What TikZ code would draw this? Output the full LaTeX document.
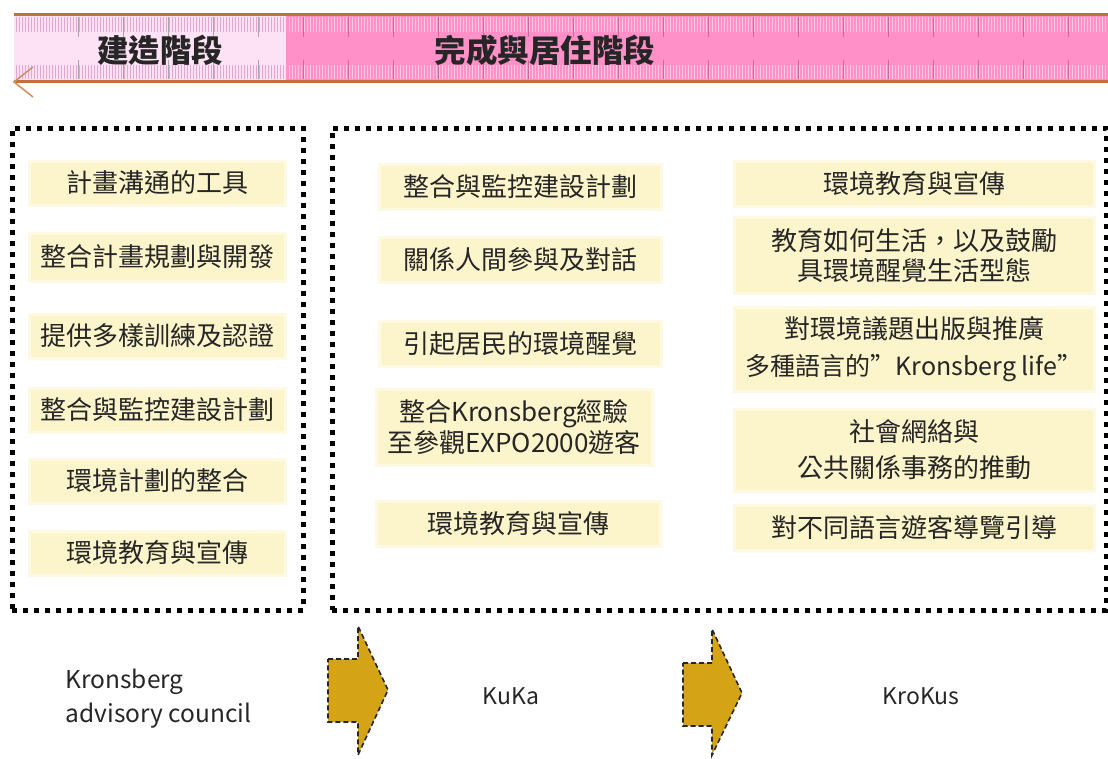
\documentclass[tikz,border=0pt]{standalone}
\usepackage{fontspec}
\setmainfont{Noto Sans CJK TC}
\definecolor{lpink}{HTML}{FDE2F5}
\definecolor{hpink}{HTML}{FF90C8}
\definecolor{rbrown}{HTML}{C2703D}
\definecolor{ltick}{HTML}{E3A8D2}
\definecolor{htick}{HTML}{FFC6E4}
\definecolor{mtick}{HTML}{C86A9E}
\definecolor{boxy}{HTML}{FCF5CC}
\definecolor{boxyo}{HTML}{FDF9E2}
\definecolor{gold}{HTML}{D5A316}
\begin{document}
\begin{tikzpicture}[x=1pt,y=-1pt,
  ybox/.style={fill=boxy, draw=boxyo, line width=3pt, inner sep=2pt, align=center,
    font=\fontsize{26}{33}\selectfont, text=black!85},
  dotframe/.style={draw=black, line width=5pt, dash pattern=on 5pt off 6pt},
  goldarrow/.style={fill=gold, draw=black!85, line width=1.6pt, dash pattern=on 5pt off 3pt, line join=miter},
  bigtitle/.style={font=\fontsize{31.5}{33}\selectfont\bfseries, text=black!85},
  lab/.style={font=\fontsize{24.5}{34}\selectfont, text=black!85, align=left}]
\useasboundingbox (0,0) rectangle (1108,758);
% ruler band
\fill[lpink] (14,15) rectangle (286,81);
\fill[hpink] (286,15) rectangle (1108,81);
\foreach \x in {16,19,...,285} {\draw[ltick, line width=0.6pt] (\x,17)--(\x,32) (\x,65)--(\x,79);}
\foreach \x in {289,292,...,1107} {\draw[htick, line width=0.6pt] (\x,17)--(\x,32) (\x,65)--(\x,79);}
\foreach \x in {78,123,...,285} {\draw[black!35, line width=0.8pt] (\x,17)--(\x,37) (\x,60)--(\x,79);}
\foreach \x in {303,348,...,1107} {\draw[mtick, line width=0.8pt] (\x,17)--(\x,37) (\x,60)--(\x,79);}
\draw[rbrown, line width=3pt] (14,14) -- (1108,14);
\draw[rbrown, line width=3pt] (14,81.5) -- (1108,81.5);
\coordinate (arA) at (33,67);
\coordinate (arT) at (14,82);
\coordinate (arB) at (33,97);
\draw[rbrown!80, line width=1.5pt] (arA) -- (arT) -- (arB);
\node[bigtitle] (t1) at (160,50) {建造階段};
\node[bigtitle] (t2) at (545,50) {完成與居住階段};
% frames
\node[dotframe, minimum width=291pt, minimum height=482pt] (fl) at (157.5,369) {};
\node[dotframe, minimum width=774pt, minimum height=482pt] (fr) at (719,369) {};
% left column
\node[ybox, minimum width=256pt, minimum height=44pt] (l1) at (157,183) {計畫溝通的工具};
\node[ybox, minimum width=256pt, minimum height=48pt] (l2) at (157,257) {整合計畫規劃與開發};
\node[ybox, minimum width=256pt, minimum height=44pt] (l3) at (157,336) {提供多樣訓練及認證};
\node[ybox, minimum width=256pt, minimum height=44pt] (l4) at (157,410) {整合與監控建設計劃};
\node[ybox, minimum width=256pt, minimum height=44pt] (l5) at (157,481) {環境計劃的整合};
\node[ybox, minimum width=256pt, minimum height=44pt] (l6) at (157,553) {環境教育與宣傳};
% middle column
\node[ybox, minimum width=282pt, minimum height=45pt] (m1) at (520,187) {整合與監控建設計劃};
\node[ybox, minimum width=282pt, minimum height=45pt] (m2) at (520,260) {關係人間參與及對話};
\node[ybox, minimum width=282pt, minimum height=45pt] (m3) at (520,344) {引起居民的環境醒覺};
\node[ybox, minimum width=276pt, minimum height=76pt] (m4) at (514,427) {整合Kronsberg經驗\\[-2pt]至參觀EXPO2000遊客};
\node[ybox, minimum width=284pt, minimum height=45pt] (m5) at (518,524) {環境教育與宣傳};
% right column
\node[ybox, minimum width=360pt, minimum height=45pt] (r1) at (914,184) {環境教育與宣傳};
\node[ybox, minimum width=360pt, minimum height=76pt] (r2) at (914,255) {教育如何生活，以及鼓勵\\[-3pt]具環境醒覺生活型態};
\node[ybox, minimum width=360pt, minimum height=84pt] (r3) at (914,349) {對環境議題出版與推廣\\[4pt]{\fontsize{25}{33}\selectfont 多種語言的”Kronsberg life”}};
\node[ybox, minimum width=360pt, minimum height=82pt] (r4) at (914,450) {社會網絡與\\[3pt]公共關係事務的推動};
\node[ybox, minimum width=360pt, minimum height=45pt] (r5) at (914,528) {對不同語言遊客導覽引導};
% bottom labels
\node[lab, anchor=west] (kac) at (62,699) {Kronsberg\\advisory council};
\node[lab, font=\fontsize{23}{34}\selectfont] (kuka) at (511,696) {KuKa};
\node[lab, font=\fontsize{23}{34}\selectfont] (krokus) at (921,696) {KroKus};
% gold arrows
\draw[goldarrow] (328,659) -- (358,659) -- (358,626) -- (388,690) -- (358,755) -- (358,722) -- (328,722) -- cycle;
\draw[goldarrow] (683,663) -- (712,663) -- (712,629) -- (742,693) -- (712,755) -- (712,726) -- (683,726) -- cycle;
\end{tikzpicture}
\end{document}
